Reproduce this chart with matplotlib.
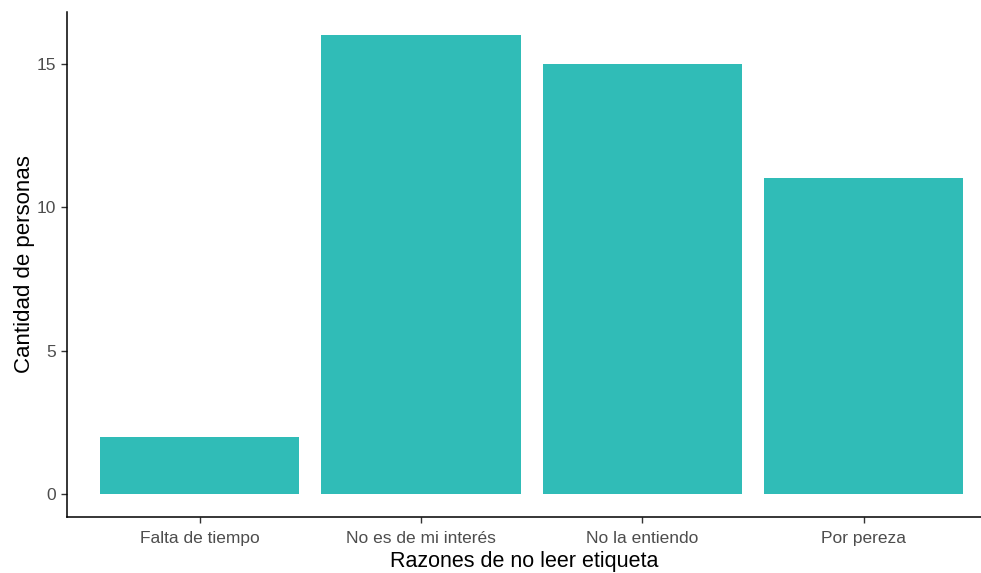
import matplotlib
matplotlib.use("Agg")
import matplotlib.pyplot as plt

categories = ["Falta de tiempo", "No es de mi interés", "No la entiendo", "Por pereza"]
counts = [2, 16, 15, 11]
yticks = [0, 5, 10, 15]

plt.rcParams['font.family'] = ['Liberation Sans', 'DejaVu Sans']

W, H = 981, 573
fig = plt.figure(figsize=(W/100, H/100), dpi=100)
left, right, top, bottom = 67, 981, 12, 517
ax = fig.add_axes([left/W, (H-bottom)/H, (right-left)/W, (bottom-top)/H])

x = list(range(1, len(categories)+1))
ax.bar(x, counts, width=0.9, color="#30BCB7", zorder=2)

ax.set_xlim(0.4, 0.4 + (right-left)/221.3)
ax.set_ylim(-0.8, 16.8)
ax.set_xticks(x)
ax.set_xticklabels(categories)
ax.set_yticks(yticks)
ax.set_yticklabels([str(v) for v in yticks])

for s in ["top", "right"]:
    ax.spines[s].set_visible(False)
for s in ["left", "bottom"]:
    ax.spines[s].set_color("black")
    ax.spines[s].set_linewidth(1.1)

ax.tick_params(axis="both", colors="#333333", length=4, width=1, labelsize=12.5, labelcolor="#4D4D4D")
ax.tick_params(axis="x", pad=6)
ax.tick_params(axis="y", pad=4)

ax.set_xlabel("Razones de no leer etiqueta", fontsize=15.5, color="black", labelpad=3.5)
ax.set_ylabel("Cantidad de personas", fontsize=16, color="black", labelpad=1)

fig.savefig("out.png", dpi=100)
